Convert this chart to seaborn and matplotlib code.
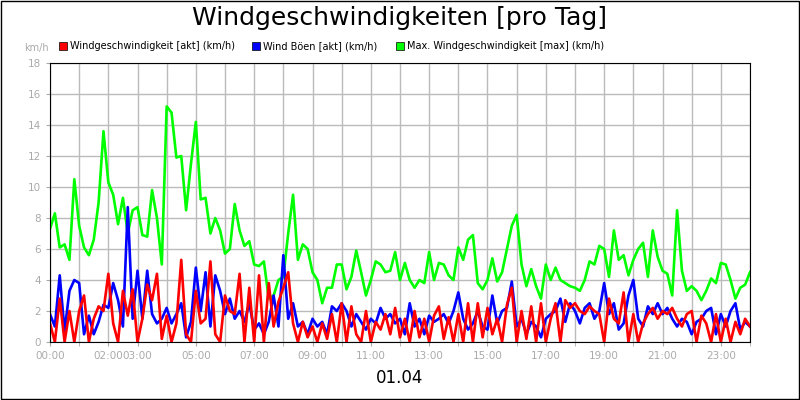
import matplotlib
matplotlib.use("Agg")
import matplotlib.pyplot as plt
import seaborn as sns
import numpy as np
import pandas as pd

series_names = ["Windgeschwindigkeit [akt] (km/h)", "Wind Böen [akt] (km/h)", "Max. Windgeschwindigkeit [max] (km/h)"]
colors = ["#ff0000", "#0000ff", "#00ff00"]

green = [7.3, 8.3, 6.1, 6.3, 5.3, 10.5, 7.5, 6.1, 5.6, 6.6, 9.0, 13.6,
         10.3, 9.5, 7.6, 9.3, 7.0, 8.5, 8.7, 6.9, 6.8, 9.8, 8.0, 5.0,
         15.2, 14.8, 11.9, 12.0, 8.5, 11.5, 14.2, 9.2, 9.3, 7.0, 8.0, 7.2,
         5.7, 6.0, 8.9, 7.2, 6.2, 6.5, 5.0, 4.9, 5.2, 2.8, 3.0, 4.0,
         4.2, 7.0, 9.5, 5.3, 6.3, 6.0, 4.5, 4.0, 2.5, 3.5, 3.5, 5.0,
         5.0, 3.4, 4.2, 5.9, 4.5, 3.0, 4.0, 5.2, 5.0, 4.5, 4.6, 5.8,
         4.0, 5.1, 4.0, 3.5, 4.0, 3.8, 5.8, 4.0, 5.1, 5.0, 4.3, 4.0,
         6.1, 5.3, 6.6, 6.9, 3.8, 3.4, 4.0, 5.4, 3.9, 4.5, 6.0, 7.5,
         8.2, 5.0, 3.6, 4.7, 3.6, 2.8, 5.0, 4.0, 4.8, 4.0, 3.8, 3.6,
         3.5, 3.3, 4.0, 5.2, 5.0, 6.2, 6.0, 4.2, 7.2, 5.3, 5.6, 4.3,
         5.3, 6.0, 6.4, 4.2, 7.2, 5.5, 4.6, 4.4, 3.0, 8.5, 4.6, 3.3,
         3.6, 3.3, 2.7, 3.3, 4.1, 3.8, 5.1, 5.0, 4.0, 2.8, 3.5, 3.7, 4.5]
blue = [1.8, 1.0, 4.3, 0.7, 3.3, 4.0, 3.8, 0.5, 1.7, 0.5, 1.3, 2.4,
        2.2, 3.8, 2.7, 1.0, 8.7, 1.5, 4.6, 1.5, 4.6, 1.8, 1.2, 1.5,
        2.2, 1.2, 1.8, 2.5, 0.3, 1.3, 4.8, 2.0, 4.5, 1.0, 4.3, 3.3,
        1.8, 2.8, 1.5, 2.0, 1.3, 2.5, 0.8, 1.2, 0.5, 1.3, 3.0, 1.0,
        5.6, 1.5, 2.5, 1.0, 1.3, 0.5, 1.5, 1.0, 1.3, 0.5, 2.3, 2.0,
        2.5, 2.0, 1.0, 1.8, 1.3, 0.8, 1.5, 1.2, 2.2, 1.5, 1.8, 1.2,
        1.5, 0.5, 2.5, 1.0, 1.5, 0.5, 1.7, 1.3, 1.5, 1.8, 1.2, 2.0,
        3.2, 1.5, 0.8, 1.2, 2.0, 1.0, 0.8, 3.0, 1.2, 2.0, 2.2, 3.9,
        1.0, 1.5, 0.5, 1.3, 1.0, 0.3, 1.5, 1.8, 2.0, 2.8, 1.3, 2.5,
        2.0, 1.2, 2.2, 2.5, 1.5, 2.0, 3.8, 1.8, 2.5, 0.8, 1.2, 3.0,
        4.0, 1.5, 1.0, 2.3, 1.8, 2.5, 1.8, 2.2, 1.5, 1.0, 1.5, 1.3,
        0.5, 1.3, 1.5, 2.0, 2.2, 0.5, 1.8, 1.0, 2.0, 2.5, 0.8, 1.3, 1.0]
red = [1.2, 0.0, 2.8, 0.0, 2.0, 0.0, 2.0, 3.0, 0.0, 1.5, 2.3, 2.0,
       4.4, 1.2, 0.0, 3.3, 1.7, 3.4, 0.0, 1.5, 3.7, 2.7, 4.4, 0.2,
       1.7, 0.0, 1.2, 5.3, 0.5, 0.0, 3.3, 1.2, 1.5, 5.2, 0.5, 0.0,
       3.0, 2.0, 1.8, 4.4, 0.0, 3.5, 0.0, 4.3, 0.0, 3.8, 1.0, 2.6,
       3.5, 4.5, 1.2, 0.0, 1.3, 0.3, 1.0, 0.0, 1.2, 0.2, 1.8, 0.0,
       2.5, 0.0, 2.3, 0.5, 0.0, 2.0, 0.0, 1.3, 0.8, 1.8, 0.5, 2.2,
       0.3, 1.5, 0.0, 2.0, 0.3, 1.5, 0.0, 1.7, 2.3, 0.2, 1.6, 0.0,
       1.8, 0.0, 2.5, 0.0, 2.5, 0.3, 2.2, 0.5, 1.5, 0.0, 2.4, 3.5,
       0.0, 2.0, 0.2, 2.3, 0.0, 2.5, 0.0, 1.5, 2.5, 0.0, 2.7, 2.2,
       2.5, 2.0, 1.8, 2.3, 2.0, 1.8, 0.0, 2.8, 1.5, 1.2, 3.2, 0.0,
       1.8, 0.0, 1.2, 1.8, 2.2, 1.5, 2.0, 1.8, 2.2, 1.5, 1.0, 1.8,
       2.0, 0.0, 1.7, 1.2, 0.0, 1.8, 0.0, 1.5, 0.0, 1.3, 0.5, 1.5, 1.0]
hours = np.arange(len(green)) / 6.0  # 10-minute steps
tick_hours = [0, 2, 3, 5, 7, 9, 11, 13, 15, 17, 19, 21, 23]
tick_labels = ["00:00", "02:00", "03:00", "05:00", "07:00", "09:00", "11:00",
               "13:00", "15:00", "17:00", "19:00", "21:00", "23:00"]

df = pd.DataFrame({"h": np.concatenate([hours] * 3),
                   "v": red + blue + green,
                   "s": np.repeat(series_names, len(hours))})

fig = plt.figure(figsize=(8, 4), dpi=100)
ax = fig.add_axes([0.0625, 0.145, 0.875, 0.6975])
sns.lineplot(data=df, x="h", y="v", hue="s", hue_order=series_names[::-1],
             palette=dict(zip(series_names, colors)), linewidth=1.9, ax=ax, legend=False)
ax.set_xlim(0, 24)
ax.set_ylim(0, 18)
ax.set_xticks(np.arange(0, 25, 1), minor=True)
ax.set_xticks(tick_hours)
ax.set_xticklabels(tick_labels)
ax.set_yticks(np.arange(0, 19, 2))
ax.grid(True, which="both", color="#bbbbbb", linewidth=1)
ax.set_axisbelow(True)
ax.tick_params(colors="#aaaaaa", labelsize=7.5, length=3, which="both")
for sp in ax.spines.values():
    sp.set_color("black")
ax.set_xlabel("")
ax.set_ylabel("")

fig.text(0.5, 0.955, "Windgeschwindigkeiten [pro Tag]", ha="center", va="center", fontsize=18)
fig.text(0.5, 0.055, "01.04", ha="center", va="center", fontsize=12)
fig.text(0.03, 0.88, "km/h", ha="left", va="center", fontsize=7, color="#aaaaaa")
leg_x = [0.074, 0.315, 0.495]
for x, n, c in zip(leg_x, series_names, colors):
    fig.patches.append(plt.Rectangle((x, 0.876), 0.01, 0.02, transform=fig.transFigure,
                                     facecolor=c, edgecolor="black", linewidth=0.5))
    fig.text(x + 0.014, 0.886, n, ha="left", va="center", fontsize=7)
fig.patches.append(plt.Rectangle((0.001, 0.002), 0.998, 0.996, transform=fig.transFigure,
                                 fill=False, edgecolor="black", linewidth=1))
fig.savefig("out.png", dpi=100)
